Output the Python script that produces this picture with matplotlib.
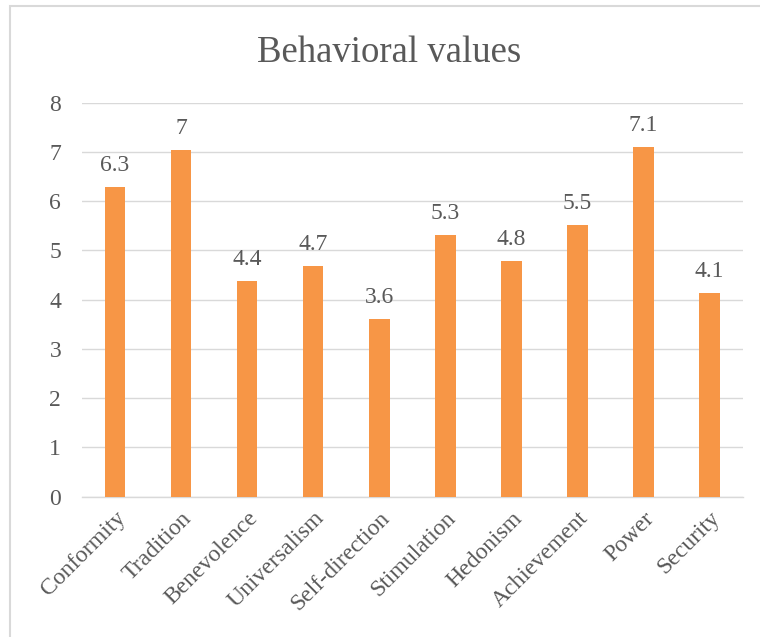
import matplotlib
matplotlib.use("Agg")
import matplotlib.pyplot as plt
from matplotlib.patches import Rectangle

categories = ["Conformity", "Tradition", "Benevolence", "Universalism", "Self-direction",
              "Stimulation", "Hedonism", "Achievement", "Power", "Security"]
values = [6.29, 7.04, 4.37, 4.69, 3.60, 5.31, 4.79, 5.52, 7.10, 4.13]
yticks = [0, 1, 2, 3, 4, 5, 6, 7, 8]

text_color = "#595959"
grid_color = "#D9D9D9"
bar_color = "#F79646"

plt.rcParams['font.family'] = ['Liberation Serif', 'DejaVu Serif']

fig = plt.figure(figsize=(7.6, 6.37), dpi=100)
ax = fig.add_axes([0.1079, 0.2203, 0.8692, 0.6185])

# chart border (extends past the right/bottom edges of the picture)
fig.patches.append(Rectangle((10 / 760, -0.1), 1.1, (631 / 637) + 0.1,
                             transform=fig.transFigure, fill=False,
                             edgecolor=grid_color, lw=1.5))

x = list(range(len(categories)))
bars = ax.bar(x, values, width=0.31, color=bar_color, zorder=3)

for xi, v in zip(x, values):
    label = f"{v:.1f}"
    if label.endswith(".0"):
        label = label[:-2]
    ax.annotate(label, (xi, v), xytext=(0, 8), textcoords="offset points",
                ha="center", va="bottom", fontsize=17, color=text_color)

ax.set_xlim(-0.5, len(categories) - 0.5)
ax.set_ylim(0, 8)
ax.set_yticks(yticks)
ax.set_yticklabels([str(t) for t in yticks])
ax.grid(axis="y", color=grid_color, lw=1.0, zorder=0)
ax.set_axisbelow(True)
for s in ["top", "right", "left"]:
    ax.spines[s].set_visible(False)
ax.spines["bottom"].set_color(grid_color)
ax.spines["bottom"].set_linewidth(1.0)
ax.tick_params(axis="both", length=0, labelsize=17, labelcolor=text_color)
ax.tick_params(axis="y", pad=15)

ax.set_xticks(x)
ax.set_xticklabels(categories, rotation=45, ha="right", va="top",
                   rotation_mode="anchor")
ax.tick_params(axis="x", pad=8)

fig.text(389 / 760, 1 - 62 / 637, "Behavioral values", ha="center", va="baseline",
         fontsize=26.5, color=text_color)

fig.savefig("out.png", dpi=100)
